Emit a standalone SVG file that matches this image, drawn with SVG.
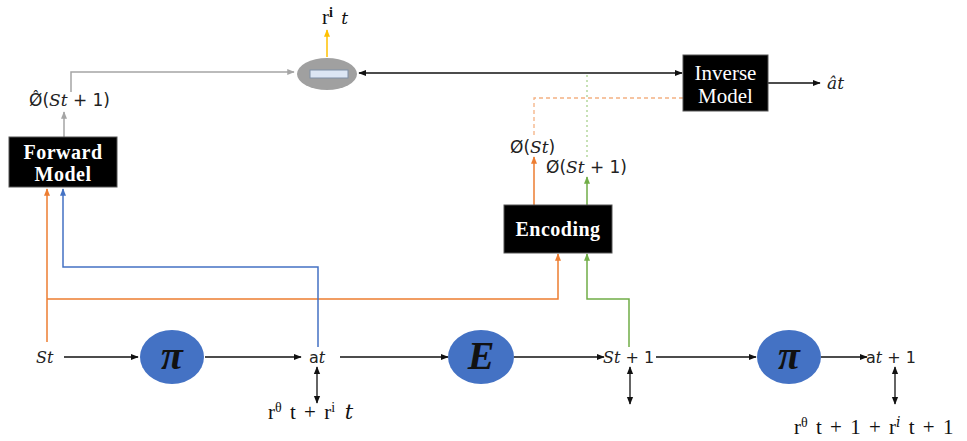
<svg xmlns="http://www.w3.org/2000/svg" width="967" height="441" viewBox="0 0 967 441">
  <style>
    .box { fill: #000; stroke: #555; stroke-width: 1; }
    .boxlbl { fill: #fff; font-family: "Liberation Serif", "DejaVu Serif", serif; font-weight: bold; font-size: 20px; text-anchor: middle; letter-spacing: 0.5px; }
    .invlbl { fill: #fff; font-family: "Liberation Serif", "DejaVu Serif", serif; font-size: 21px; text-anchor: middle; }
    .circ { fill: #4472C4; }
    .sym { font-family: "Liberation Serif", "DejaVu Serif", serif; font-weight: bold; font-style: italic; font-size: 40px; fill: #111; text-anchor: middle; }
    .math { font-family: "DejaVu Sans", sans-serif; font-size: 17px; fill: #222; }
    .mathS { font-family: "DejaVu Sans", sans-serif; font-size: 16px; fill: #222; }
    .it { font-style: italic; font-family: "DejaVu Serif", serif; }
    .rew { font-family: "Liberation Serif", "DejaVu Serif", serif; font-size: 21px; fill: #111; word-spacing: 3px; }
    .sup { font-size: 14px; }
    .k { stroke: #111; stroke-width: 1.3; fill: none; }
    .org { stroke: #ED7D31; stroke-width: 1.5; fill: none; }
    .blu { stroke: #4472C4; stroke-width: 1.5; fill: none; }
    .grn { stroke: #70AD47; stroke-width: 1.5; fill: none; }
    .gry { stroke: #A5A5A5; stroke-width: 1.5; fill: none; }
    .yel { stroke: #FFC000; stroke-width: 1.5; fill: none; }
    .dashO { stroke: #F4B183; stroke-width: 1.3; stroke-dasharray: 4 3; fill: none; }
    .dashG { stroke: #A9D18E; stroke-width: 1.3; stroke-dasharray: 2 3; fill: none; }
  </style>
  <defs>
    <marker id="ak" viewBox="0 0 10 10" refX="9" refY="5" markerWidth="6" markerHeight="6" orient="auto-start-reverse"><path d="M0,1 L10,5 L0,9 z" fill="#111"/></marker>
    <marker id="ao" viewBox="0 0 10 10" refX="9" refY="5" markerWidth="5" markerHeight="5" orient="auto"><path d="M0,1 L10,5 L0,9 z" fill="#ED7D31"/></marker>
    <marker id="ab" viewBox="0 0 10 10" refX="9" refY="5" markerWidth="5" markerHeight="5" orient="auto"><path d="M0,1 L10,5 L0,9 z" fill="#4472C4"/></marker>
    <marker id="ag" viewBox="0 0 10 10" refX="9" refY="5" markerWidth="5" markerHeight="5" orient="auto"><path d="M0,1 L10,5 L0,9 z" fill="#70AD47"/></marker>
    <marker id="ay" viewBox="0 0 10 10" refX="9" refY="5" markerWidth="5" markerHeight="5" orient="auto"><path d="M0,1 L10,5 L0,9 z" fill="#FFC000"/></marker>
    <marker id="ar" viewBox="0 0 10 10" refX="9" refY="5" markerWidth="5" markerHeight="5" orient="auto"><path d="M0,1 L10,5 L0,9 z" fill="#A5A5A5"/></marker>
  </defs>

  <g id="connectors">
    <!-- state/action chain -->
    <line class="k" x1="64" y1="357" x2="138" y2="357" marker-end="url(#ak)"/>
    <line class="k" x1="205" y1="357" x2="301" y2="357" marker-end="url(#ak)"/>
    <line class="k" x1="340" y1="357" x2="448" y2="357" marker-end="url(#ak)"/>
    <line class="k" x1="514" y1="357" x2="604" y2="357" marker-end="url(#ak)"/>
    <line class="k" x1="656" y1="357" x2="756" y2="357" marker-end="url(#ak)"/>
    <line class="k" x1="821" y1="357" x2="867" y2="357" marker-end="url(#ak)"/>
    <!-- reward links -->
    <line class="k" x1="317" y1="367" x2="317" y2="403" marker-start="url(#ak)" marker-end="url(#ak)"/>
    <line class="k" x1="630" y1="367" x2="630" y2="404" marker-start="url(#ak)" marker-end="url(#ak)"/>
    <line class="k" x1="895" y1="367" x2="895" y2="404" marker-start="url(#ak)" marker-end="url(#ak)"/>
    <!-- St feed -->
    <polyline class="org" points="47,342 47,189" marker-end="url(#ao)"/>
    <polyline class="org" points="47,299 558,299 558,254" marker-end="url(#ao)"/>
    <!-- at feed -->
    <polyline class="blu" points="318,347 318,267 63,267 63,189" marker-end="url(#ab)"/>
    <!-- St+1 feed -->
    <polyline class="grn" points="629,347 629,299 587,299 587,254" marker-end="url(#ag)"/>
    <!-- encoder outputs -->
    <line class="org" x1="534" y1="205" x2="534" y2="157" marker-end="url(#ao)"/>
    <line class="grn" x1="587" y1="205" x2="587" y2="177" marker-end="url(#ag)"/>
    <polyline class="dashO" points="534,135 534,98 683,98"/>
    <line class="dashG" x1="587" y1="157" x2="587" y2="73"/>
    <!-- forward model output -->
    <line class="gry" x1="64" y1="137" x2="64" y2="112" marker-end="url(#ar)"/>
    <polyline class="gry" points="71,92 71,72 294,72" marker-end="url(#ar)"/>
    <!-- comparison -->
    <line class="k" x1="359" y1="73" x2="682" y2="73" marker-start="url(#ak)" marker-end="url(#ak)"/>
    <line class="yel" x1="327" y1="57" x2="327" y2="30" marker-end="url(#ay)"/>
    <line class="k" x1="768" y1="83" x2="820" y2="83" marker-end="url(#ak)"/>
  </g>

  <g id="forward-model">
    <rect class="box" x="9" y="137" width="108" height="50"/>
    <text class="boxlbl" x="63" y="159">Forward</text>
    <text class="boxlbl" x="63" y="181">Model</text>
  </g>

  <g id="inverse-model">
    <rect class="box" x="683" y="55" width="85" height="56"/>
    <text class="invlbl" x="725.5" y="80">Inverse</text>
    <text class="invlbl" x="725.5" y="103">Model</text>
  </g>

  <g id="encoding">
    <rect class="box" x="504" y="205" width="108" height="48"/>
    <text class="boxlbl" x="558" y="236" font-size="19">Encoding</text>
  </g>

  <g id="comparator">
    <ellipse cx="327" cy="74" rx="30" ry="16" fill="#A0A0A0"/>
    <rect x="310" y="70" width="38" height="8" fill="#DCE6F4" stroke="#7F8FA6" stroke-width="1"/>
  </g>

  <g id="policy-1">
    <ellipse class="circ" cx="172" cy="357" rx="32" ry="27"/>
    <text class="sym" x="172" y="369">π</text>
  </g>

  <g id="environment">
    <ellipse class="circ" cx="481" cy="357" rx="33" ry="27"/>
    <text class="sym" x="481" y="369" font-size="34">E</text>
  </g>

  <g id="policy-2">
    <ellipse class="circ" cx="789" cy="357" rx="32" ry="27"/>
    <text class="sym" x="789" y="369">π</text>
  </g>

  <g id="labels">
    <text class="rew" x="322" y="24" font-size="19">r<tspan class="sup" font-weight="bold" dy="-7">i</tspan><tspan dy="7" class="it" font-size="17"> t</tspan></text>
    <text class="math" x="29" y="106" font-size="18">Ø̂(<tspan class="it">St</tspan> + 1)</text>
    <text class="math" x="510" y="153">Ø(<tspan class="it">St</tspan>)</text>
    <text class="math" x="546" y="173">Ø(<tspan class="it">St</tspan> + 1)</text>
    <text class="math" x="827" y="89"><tspan class="it">ât</tspan></text>
    <text class="mathS" x="36" y="363"><tspan class="it">St</tspan></text>
    <text class="mathS" x="309" y="363">a<tspan class="it">t</tspan></text>
    <text class="mathS" x="603" y="363"><tspan class="it">St</tspan> + 1</text>
    <text class="mathS" x="866" y="363">a<tspan class="it">t</tspan> + 1</text>
    <text class="rew" x="268" y="419">r<tspan class="sup" dy="-7">θ</tspan><tspan dy="7"> t + r</tspan><tspan class="sup" dy="-7">i</tspan><tspan dy="7" class="it"> t</tspan></text>
    <text class="rew" x="794" y="434">r<tspan class="sup" dy="-7">θ</tspan><tspan dy="7"> t + 1 + r</tspan><tspan class="sup it" dy="-7">i</tspan><tspan dy="7"> t + 1</tspan></text>
  </g>
</svg>
